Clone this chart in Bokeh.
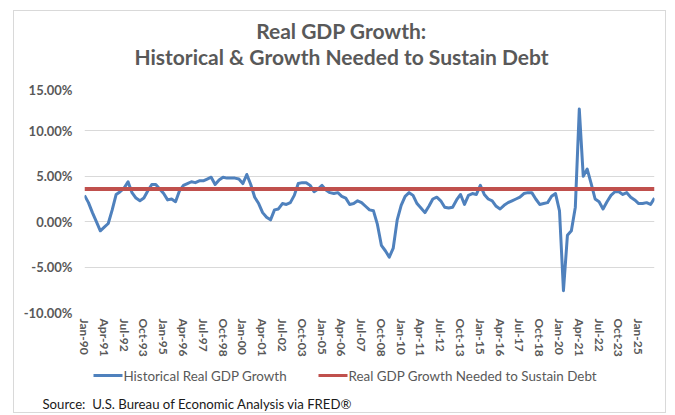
from bokeh.plotting import figure
from bokeh.layouts import column
from bokeh.models import Range1d, FixedTicker, PrintfTickFormatter, Label
from bokeh.embed import file_html
from bokeh.resources import INLINE

# Historical real GDP growth, % change from a year ago, quarterly from Q1 1990
gdp_growth = [
    2.9, 2.1, 1.0, 0.0, -1.0, -0.6, -0.2, 1.3, 3.0, 3.3,
    3.7, 4.4, 3.2, 2.6, 2.3, 2.6, 3.4, 4.1, 4.1, 3.6,
    3.1, 2.4, 2.5, 2.2, 3.4, 4.0, 4.2, 4.4, 4.3, 4.5,
    4.5, 4.7, 4.9, 4.1, 4.6, 4.9, 4.8, 4.8, 4.8, 4.7,
    4.2, 5.2, 4.1, 2.7, 2.0, 1.0, 0.5, 0.2, 1.3, 1.4,
    2.0, 1.9, 2.1, 2.9, 4.2, 4.3, 4.3, 4.0, 3.3, 3.6,
    4.0, 3.5, 3.2, 3.1, 3.2, 2.8, 2.6, 1.9, 2.0, 2.3,
    2.1, 1.7, 1.3, 1.2, -0.3, -2.6, -3.2, -3.9, -2.9, 0.2,
    1.8, 2.8, 3.2, 2.9, 2.0, 1.5, 1.0, 1.7, 2.5, 2.7,
    2.3, 1.6, 1.5, 1.6, 2.4, 3.0, 1.9, 2.9, 3.1, 3.0,
    4.0, 3.0, 2.5, 2.3, 1.7, 1.4, 1.8, 2.1, 2.3, 2.5,
    2.7, 3.1, 3.2, 3.2, 2.5, 1.9, 2.0, 2.1, 2.8, 3.1,
    1.2, -7.6, -1.5, -1.0, 1.6, 12.4, 5.0, 5.8, 4.2, 2.5,
    2.2, 1.4, 2.2, 2.9, 3.3, 3.3, 3.0, 3.2, 2.7, 2.4,
    2.0, 2.0, 2.1, 1.9, 2.6,
]
needed_rate = 3.6
needed_growth = [needed_rate] * len(gdp_growth)
quarter_index = list(range(len(gdp_growth)))

tick_positions = list(range(0, 141, 5))
tick_labels = [
    "Jan-90", "Apr-91", "Jul-92", "Oct-93", "Jan-95", "Apr-96", "Jul-97", "Oct-98",
    "Jan-00", "Apr-01", "Jul-02", "Oct-03", "Jan-05", "Apr-06", "Jul-07", "Oct-08",
    "Jan-10", "Apr-11", "Jul-12", "Oct-13", "Jan-15", "Apr-16", "Jul-17", "Oct-18",
    "Jan-20", "Apr-21", "Jul-22", "Oct-23", "Jan-25",
]
y_ticks = [-10, -5, 0, 5, 10, 15]

title_1 = "Real GDP Growth:"
title_2 = "Historical & Growth Needed to Sustain Debt"
source_text = "Source:\u00a0 U.S. Bureau of Economic Analysis via FRED®"
series_names = ["Historical Real GDP Growth", "Real GDP Growth Needed to Sustain Debt"]
series_colors = ["#4F81BD", "#C0504D"]

FONT = "Lato"
GRAY = "#595959"
W = 651
TOP_H, MAIN_H, BOT_H = 70, 279, 52


def blank_panel(height):
    f = figure(width=W, height=height, output_backend="svg", toolbar_location=None,
               title=None, x_axis_type=None, y_axis_type=None,
               x_range=Range1d(0, W), y_range=Range1d(0, height), min_border=0)
    f.frame_align = False
    f.outline_line_color = None
    f.border_fill_color = "white"
    f.background_fill_color = "white"
    f.grid.visible = False
    return f


# ---- title panel
p_top = blank_panel(TOP_H)
for txt, ypos in [(title_1, 51), (title_2, 25)]:
    p_top.add_layout(Label(x=327, y=ypos, text=txt, text_align="center", text_baseline="middle",
                           text_font=FONT, text_font_size="21px", text_font_style="bold",
                           text_color=GRAY))

# ---- main chart
p = figure(width=W, height=MAIN_H, output_backend="svg", toolbar_location=None, title=None,
           x_range=Range1d(0, 144), y_range=Range1d(-10, 15),
           min_border_left=70, min_border_right=11, min_border_top=4, min_border_bottom=48)
p.frame_align = False
p.outline_line_color = None
p.background_fill_color = "white"
p.border_fill_color = "white"

p.xgrid.grid_line_color = None
p.ygrid.ticker = FixedTicker(ticks=y_ticks)
p.ygrid.grid_line_color = "#d9d9d9"
p.ygrid.grid_line_width = 1

p.yaxis.ticker = FixedTicker(ticks=y_ticks)
p.yaxis.formatter = PrintfTickFormatter(format="%.2f%%")
p.yaxis.axis_line_color = None
p.yaxis.major_tick_line_color = None
p.yaxis.minor_tick_line_color = None
p.yaxis.major_tick_out = 0
p.yaxis.major_tick_in = 0
p.yaxis.major_label_text_font = FONT
p.yaxis.major_label_text_font_size = "13px"
p.yaxis.major_label_text_font_style = "bold"
p.yaxis.major_label_text_color = GRAY
p.yaxis.major_label_standoff = 12

p.xaxis.ticker = FixedTicker(ticks=tick_positions)
p.xaxis.major_label_overrides = {pos: lab for pos, lab in zip(tick_positions, tick_labels)}
p.xaxis.major_label_orientation = "vertical"
p.xaxis.axis_line_color = None
p.xaxis.major_tick_line_color = None
p.xaxis.minor_tick_line_color = None
p.xaxis.major_tick_out = 0
p.xaxis.major_tick_in = 0
p.xaxis.major_label_text_font = FONT
p.xaxis.major_label_text_font_size = "12px"
p.xaxis.major_label_text_font_style = "bold"
p.xaxis.major_label_text_color = GRAY
p.xaxis.major_label_standoff = 6

p.line(quarter_index, gdp_growth, line_color=series_colors[0], line_width=3, line_join="round")
p.line(quarter_index, needed_growth, line_color=series_colors[1], line_width=4)

# ---- legend (key samples + labels) and source panel
p_bot = blank_panel(BOT_H)
LEG_Y = 37
key_x0 = [79, 304]        # left end of each key sample, panel pixels
KEY_W = 29
p_bot.segment(x0=key_x0, y0=[LEG_Y, LEG_Y], x1=[x + KEY_W for x in key_x0], y1=[LEG_Y, LEG_Y],
              line_color=series_colors, line_width=3)
for name, x0 in zip(series_names, key_x0):
    p_bot.add_layout(Label(x=x0 + KEY_W + 1, y=LEG_Y, text=name, text_align="left",
                           text_baseline="middle", text_font=FONT, text_font_size="13.4px",
                           text_color=GRAY))
p_bot.add_layout(Label(x=28, y=9, text=source_text, text_align="left", text_baseline="middle",
                       text_font=FONT, text_font_size="13.2px", text_color="#1a1a1a"))

layout = column(p_top, p, p_bot, spacing=0, margin=(10, 0, 0, 13),
                styles={"border": "1px solid #d9d9d9"})

open("out.html", "w").write(file_html(layout, INLINE))
